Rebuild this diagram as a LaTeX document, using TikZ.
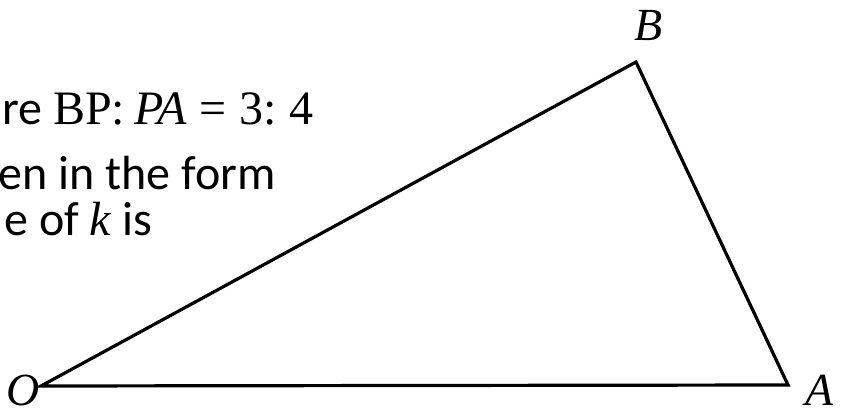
\documentclass[tikz,border=0pt]{standalone}
\usepackage{fontspec}
\usepackage{tikz}
\setmainfont{Carlito}
\newfontfamily\mfam{Liberation Serif}
\newcommand{\mvar}[1]{{\mfam\itshape #1}}
\newcommand{\mup}[1]{{\mfam #1}}

\begin{document}
\begin{tikzpicture}[x=1pt, y=1pt,
	side/.style={line width=3.2pt, line join=miter},
	vlabel/.style={inner sep=0pt, anchor=base, font=\fontsize{46}{50}\selectfont\mfam\itshape},
	txt/.style={inner sep=0pt, font=\fontsize{48}{56}\selectfont}]
	\useasboundingbox (0,0) rectangle (842,415);
	
	% Vertices
	\coordinate (O) at (41,29);
	\coordinate (A) at (788,30);
	\coordinate (B) at (636,353);
	\draw[side] (O) -- (A) -- (B) -- cycle;
	
	% Labels
	\node[vlabel] (labO) at (23,10) {O};
	\node[vlabel] (labA) at (820,10) {A};
	\node[vlabel] (labB) at (649,374) {B};
	
	% Question text
	\node[txt, anchor=base west] (line1) at (2,290) {re \mup{BP:}\hspace{9pt}\mvar{PA}\hspace{13pt}\mup{=}\hspace{13pt}\mup{3:}\hspace{13pt}\mup{4}};
	\node[txt, anchor=base east] (line2) at (276,225) {en in the form};
	\node[txt, anchor=base east] (line3) at (152,179) {e of \mvar{k} is};
\end{tikzpicture}
\end{document}
